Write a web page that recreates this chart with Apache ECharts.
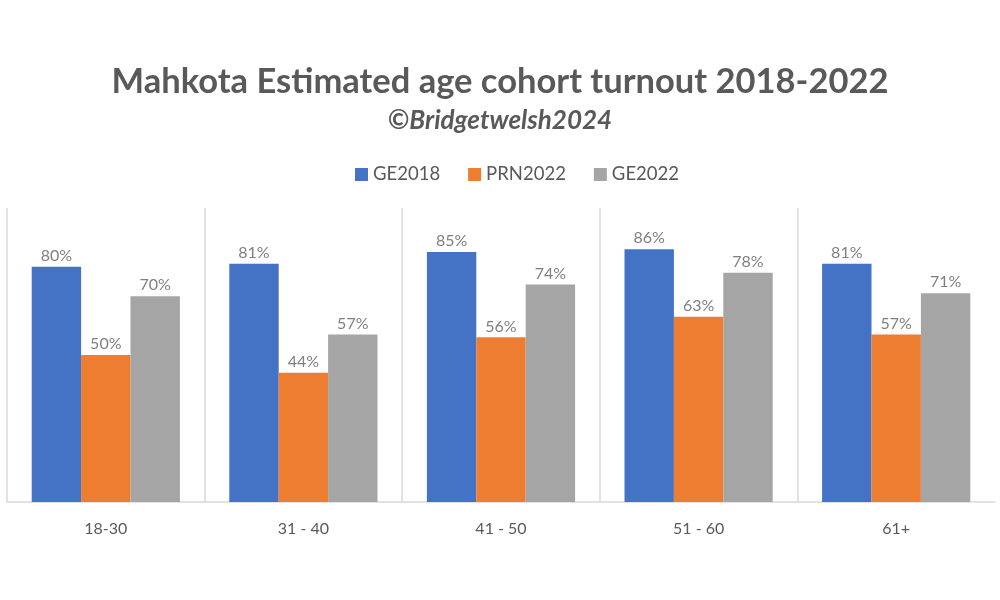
<!DOCTYPE html>
<html>
<head>
<meta charset="utf-8">
<script src="https://cdn.jsdelivr.net/npm/echarts@6/dist/echarts.min.js"></script>
<style>
  html, body { margin: 0; padding: 0; background: #fff; }
  #chart { width: 1000px; height: 600px; }
</style>
</head>
<body>
<div id="chart"></div>
<script>
// age cohorts
const categories = ['18-30', '31 - 40', '41 - 50', '51 - 60', '61+']
// turnout, percent
const ge2018 = [80, 81, 85, 86, 81]
const prn2022 = [50, 44, 56, 63, 57]
const ge2022 = [70, 57, 74, 78, 71]

const FONT = 'Lato, "Open Sans", sans-serif'
const GRID_LINE = '#d9d9d9'

const label = {
  show: true,
  position: 'top',
  distance: 3,
  color: '#7f7f7f',
  fontSize: 16,
  fontFamily: FONT,
  formatter: p => p.value + '%'
}

const makeSeries = (name, data, color) => ({
  name,
  type: 'bar',
  data,
  barGap: 0,
  barCategoryGap: '25%',
  itemStyle: { color },
  label
})

const myChart = echarts.init(document.getElementById('chart'))

const option = {
  animation: false,
  title: [
    {
      text: 'Mahkota Estimated age cohort turnout 2018-2022',
      left: 'center',
      top: 59,
      textStyle: { color: '#595959', fontSize: 34.5, fontWeight: 'bold', fontFamily: FONT }
    },
    {
      text: '©Bridgetwelsh2024',
      left: 'center',
      top: 103,
      textStyle: { color: '#595959', fontSize: 26, fontWeight: 'bold', fontStyle: 'italic', fontFamily: FONT }
    }
  ],
  legend: {
    top: 160,
    left: 350,
    itemWidth: 13,
    itemHeight: 13,
    itemGap: 28,
    icon: 'rect',
    textStyle: { color: '#595959', fontSize: 18.5, fontFamily: FONT }
  },
  grid: { left: 7, right: 5, top: 208, bottom: 98 },
  xAxis: {
    type: 'category',
    data: categories,
    axisLine: { lineStyle: { color: GRID_LINE, width: 1.5 } },
    axisTick: { show: false },
    axisLabel: { color: '#595959', fontSize: 16, fontFamily: FONT, margin: 19 },
    splitLine: {
      show: true,
      // last boundary has no line in the original
      lineStyle: { color: [GRID_LINE, GRID_LINE, GRID_LINE, GRID_LINE, GRID_LINE, 'rgba(0,0,0,0)'], width: 1.5 }
    }
  },
  yAxis: {
    type: 'value',
    min: 0,
    max: 100,
    show: false,
    splitLine: { show: false }
  },
  series: [
    makeSeries('GE2018', ge2018, '#4472c4'),
    makeSeries('PRN2022', prn2022, '#ed7d31'),
    makeSeries('GE2022', ge2022, '#a5a5a5')
  ]
}

myChart.setOption(option)
</script>
</body>
</html>
